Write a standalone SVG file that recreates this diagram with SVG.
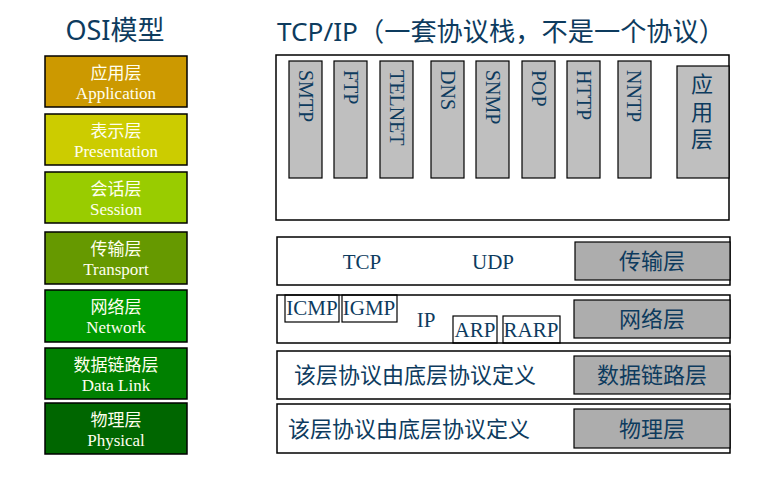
<svg xmlns="http://www.w3.org/2000/svg" width="781" height="486" viewBox="0 0 781 486">
<style>
.osi{stroke:#000;stroke-width:1.5}
.cn{font-family:"Noto Sans CJK SC","Noto Sans",sans-serif;font-size:17px;fill:#FFFFEE;text-anchor:middle}
.en{font-family:"Liberation Serif",serif;font-size:17px;fill:#FFFFEE;text-anchor:middle}
.frame{fill:#fff;stroke:#000;stroke-width:1.5}
.app{fill:#BFBFBF;stroke:#000;stroke-width:1.2}
.lbl{fill:#ADADAD;stroke:#000;stroke-width:1.2}
.pbox{fill:none;stroke:#000;stroke-width:1.2}
.vt{font-family:"Liberation Serif",serif;font-size:20px;fill:#0D3B5E}
.st{font-family:"Liberation Serif",serif;font-size:21px;fill:#0D3B5E;text-anchor:middle}
.gt{font-family:"Noto Sans CJK SC","Noto Sans",sans-serif;font-size:22px;fill:#0D3B5E;text-anchor:middle}
.title{font-family:"Noto Sans","Noto Sans CJK SC",sans-serif;fill:#0D3B5E}
</style>
<rect width="781" height="486" fill="#fff"/>
<text class="title" x="115" y="40" font-size="27" text-anchor="middle">OSI模型</text>
<text class="title" x="277" y="41" font-size="26" textLength="448" lengthAdjust="spacingAndGlyphs">TCP/IP（一套协议栈，不是一个协议）</text>

<g id="osi-application"><rect class="osi" x="45" y="56" width="142" height="51" fill="#CC9900"/><text class="cn" x="116" y="79">应用层</text><text class="en" x="116" y="99">Application</text></g>
<g id="osi-presentation"><rect class="osi" x="45" y="114" width="142" height="51" fill="#CCCC00"/><text class="cn" x="116" y="137">表示层</text><text class="en" x="116" y="157">Presentation</text></g>
<g id="osi-session"><rect class="osi" x="45" y="172" width="142" height="51" fill="#99CC00"/><text class="cn" x="116" y="195">会话层</text><text class="en" x="116" y="215">Session</text></g>
<g id="osi-transport"><rect class="osi" x="45" y="232" width="142" height="52" fill="#669900"/><text class="cn" x="116" y="255">传输层</text><text class="en" x="116" y="275">Transport</text></g>
<g id="osi-network"><rect class="osi" x="45" y="290" width="142" height="52" fill="#009900"/><text class="cn" x="116" y="313">网络层</text><text class="en" x="116" y="333">Network</text></g>
<g id="osi-datalink"><rect class="osi" x="45" y="348" width="142" height="51" fill="#008000"/><text class="cn" x="116" y="371">数据链路层</text><text class="en" x="116" y="391">Data Link</text></g>
<g id="osi-physical"><rect class="osi" x="45" y="403" width="142" height="51" fill="#006600"/><text class="cn" x="116" y="426">物理层</text><text class="en" x="116" y="446">Physical</text></g>

<g id="tcpip-application">
<rect class="frame" x="276" y="55" width="453" height="165"/>
<rect class="app" x="289" y="61" width="33" height="117"/><text class="vt" transform="translate(299,70) rotate(90)">SMTP</text>
<rect class="app" x="334" y="61" width="33" height="117"/><text class="vt" transform="translate(344,70) rotate(90)">FTP</text>
<rect class="app" x="380" y="61" width="33" height="117"/><text class="vt" transform="translate(390,70) rotate(90)">TELNET</text>
<rect class="app" x="431" y="61" width="33" height="117"/><text class="vt" transform="translate(441,70) rotate(90)">DNS</text>
<rect class="app" x="476" y="61" width="33" height="117"/><text class="vt" transform="translate(486,70) rotate(90)">SNMP</text>
<rect class="app" x="522" y="61" width="33" height="117"/><text class="vt" transform="translate(532,70) rotate(90)">POP</text>
<rect class="app" x="567" y="61" width="33" height="117"/><text class="vt" transform="translate(577,70) rotate(90)">HTTP</text>
<rect class="app" x="618" y="61" width="33" height="117"/><text class="vt" transform="translate(627,70) rotate(90)">NNTP</text>
<rect class="app" x="677" y="66" width="52" height="112"/>
<text x="702" y="73" style="writing-mode:vertical-rl;letter-spacing:5.5px;font-family:'Noto Sans CJK SC','Noto Sans',sans-serif;font-size:22px;fill:#0D3B5E">应用层</text>
</g>

<g id="tcpip-transport">
<rect class="frame" x="277" y="237" width="453" height="48"/>
<text class="st" x="362" y="269">TCP</text>
<text class="st" x="493" y="269">UDP</text>
<rect class="lbl" x="575" y="242" width="155" height="38"/>
<text class="gt" x="652" y="269">传输层</text>
</g>

<g id="tcpip-network">
<rect class="frame" x="277" y="295" width="453" height="48"/>
<rect class="pbox" x="285" y="295" width="54" height="27"/><text class="st" x="312" y="315">ICMP</text>
<rect class="pbox" x="342" y="295" width="55" height="27"/><text class="st" x="369" y="315">IGMP</text>
<text class="st" x="426" y="327">IP</text>
<rect class="pbox" x="453" y="316" width="44" height="27"/><text class="st" x="475" y="337">ARP</text>
<rect class="pbox" x="503" y="316" width="57" height="27"/><text class="st" x="531" y="337">RARP</text>
<rect class="lbl" x="574" y="300" width="156" height="38"/>
<text class="gt" x="652" y="327">网络层</text>
</g>

<g id="tcpip-datalink">
<rect class="frame" x="277" y="351" width="453" height="48"/>
<text class="gt" x="415" y="383" font-size="21.5">该层协议由底层协议定义</text>
<rect class="lbl" x="574" y="356" width="156" height="38"/>
<text class="gt" x="652" y="383">数据链路层</text>
</g>

<g id="tcpip-physical">
<rect class="frame" x="277" y="404" width="453" height="49"/>
<text class="gt" x="409" y="437" font-size="21.5">该层协议由底层协议定义</text>
<rect class="lbl" x="574" y="409" width="156" height="39"/>
<text class="gt" x="652" y="437">物理层</text>
</g>

<g id="connectors"/>
</svg>
